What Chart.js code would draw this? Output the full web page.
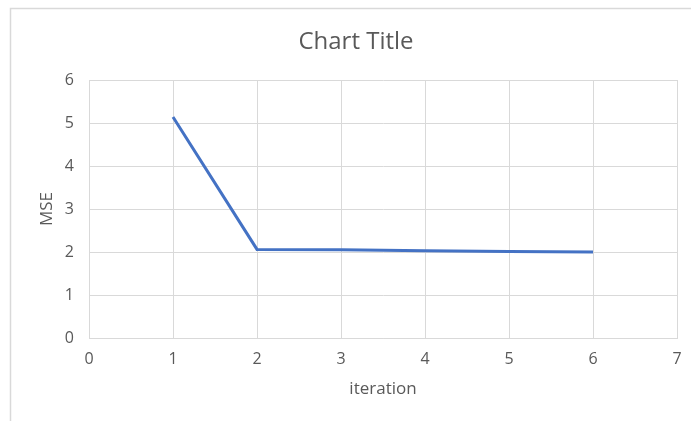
<!DOCTYPE html>
<html>
<head>
<meta charset="utf-8">
<script src="https://cdn.jsdelivr.net/npm/chart.js@4"></script>
<style>
  html, body { margin: 0; padding: 0; background: #ffffff; }
  #wrap { position: relative; width: 691px; height: 421px; }
</style>
</head>
<body>
<div id="wrap"><canvas id="c" width="691" height="421"></canvas></div>
<script>
// MSE per training iteration
const iterations = [1, 2, 3, 4, 5, 6];
const mseValues = [5.14, 2.06, 2.05, 2.03, 2.01, 2.00];
const xTicks = [0, 1, 2, 3, 4, 5, 6, 7];
const yTicks = [0, 1, 2, 3, 4, 5, 6];

const points = iterations.map((x, i) => ({ x: x, y: mseValues[i] }));

const textColor = '#595959';
const gridColor = '#d9d9d9';
const fontFamily = '"Open Sans", Calibri, Carlito, sans-serif';

// Thin outer frame around the chart object
const framePlugin = {
  id: 'frame',
  beforeDraw(chart) {
    const ctx = chart.ctx;
    ctx.save();
    ctx.fillStyle = '#ffffff';
    ctx.fillRect(0, 0, chart.width, chart.height);
    ctx.strokeStyle = gridColor;
    ctx.lineWidth = 1.5;
    ctx.beginPath();
    ctx.moveTo(10.5, chart.height + 5);
    ctx.lineTo(10.5, 8.5);
    ctx.lineTo(chart.width + 5, 8.5);
    ctx.stroke();
    ctx.restore();
  }
};

new Chart(document.getElementById('c'), {
  type: 'scatter',
  data: {
    datasets: [{
      label: 'MSE',
      data: points,
      showLine: true,
      borderColor: '#4472c4',
      backgroundColor: '#4472c4',
      borderWidth: 3,
      pointRadius: 0,
      pointHoverRadius: 0,
      tension: 0
    }]
  },
  options: {
    responsive: false,
    animation: false,
    layout: { padding: { top: 0, right: 14, bottom: 0, left: 35 } },
    plugins: {
      legend: { display: false },
      tooltip: { enabled: false },
      title: {
        display: true,
        text: 'Chart Title',
        color: textColor,
        font: { family: fontFamily, size: 24, weight: 'normal' },
        padding: { top: 27.6, bottom: 23.6 }
      }
    },
    scales: {
      x: {
        type: 'linear',
        min: 0,
        max: 7,
        afterBuildTicks(scale) { scale.ticks = xTicks.map(v => ({ value: v })); },
        afterFit(scale) { scale.height = 83; scale.paddingRight = 6; },
        ticks: {
          color: textColor,
          font: { family: fontFamily, size: 16 },
          padding: 12,
          maxRotation: 0
        },
        grid: { color: gridColor, lineWidth: 1, drawTicks: false },
        border: { color: gridColor, width: 1 },
        title: {
          display: true,
          text: 'iteration',
          color: textColor,
          font: { family: fontFamily, size: 17 },
          padding: { top: 0, bottom: 21.8 }
        }
      },
      y: {
        type: 'linear',
        min: 0,
        max: 6,
        afterBuildTicks(scale) { scale.ticks = yTicks.map(v => ({ value: v })); },
        afterFit(scale) { scale.width = 54; },
        ticks: {
          color: textColor,
          font: { family: fontFamily, size: 16 },
          padding: 15
        },
        grid: { color: gridColor, lineWidth: 1, drawTicks: false },
        border: { color: gridColor, width: 1 },
        title: {
          display: true,
          text: 'MSE',
          color: textColor,
          font: { family: fontFamily, size: 17 },
          padding: { top: 1.8, bottom: 0 }
        }
      }
    }
  },
  plugins: [framePlugin]
});
</script>
</body>
</html>
